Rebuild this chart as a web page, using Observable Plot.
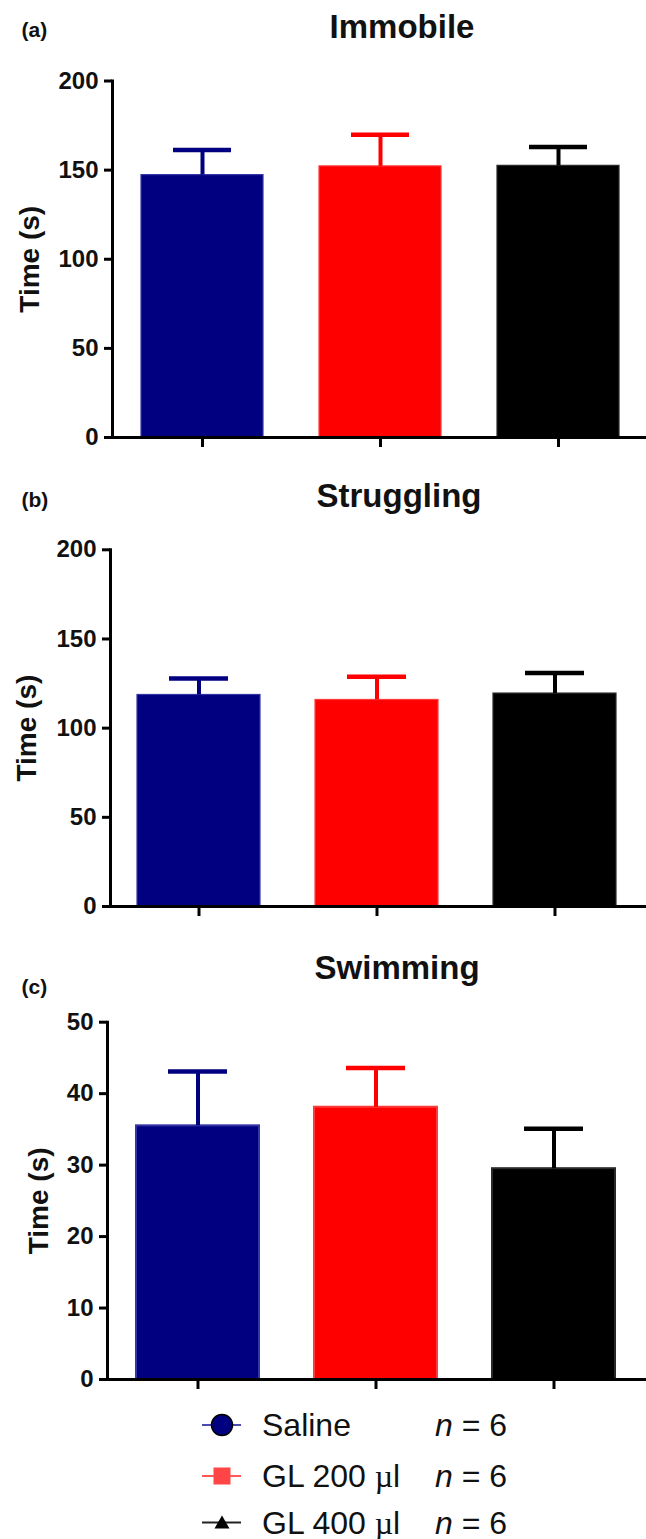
<!DOCTYPE html>
<html>
<head>
<meta charset="utf-8">
<script src="https://cdn.jsdelivr.net/npm/d3@7"></script>
<script src="https://cdn.jsdelivr.net/npm/@observablehq/plot@0.6"></script>
<style>
  body { margin: 0; background: #fff; font-family: "Liberation Sans", Arial, sans-serif; }
  #chart { width: 646px; }
  #chart svg { display: block; }
</style>
</head>
<body>
<div id="chart"></div>
<script>
// ---- data ----
const groups = ["Saline", "GL 200 µl", "GL 400 µl"];
const colors = ["#000080", "#ff0000", "#000000"];
const edgeColors = ["#3535a5", "#ff3b3b", "#2a2a2a"];
const panelLabels = ["(a)", "(b)", "(c)"];
const titles = ["Immobile", "Struggling", "Swimming"];
const yLabel = "Time (s)";

const immobileMean = [147.2, 152.1, 152.4];
const immobileSEM = [14.1, 17.8, 10.6];
const strugglingMean = [118.6, 115.8, 119.4];
const strugglingSEM = [9.3, 13.0, 11.5];
const swimmingMean = [35.5, 38.1, 29.5];
const swimmingSEM = [7.6, 5.5, 5.6];

const yTicksAB = [0, 50, 100, 150, 200];
const yTicksC = [0, 10, 20, 30, 40, 50];

const legendSymbols = ["circle", "square", "triangle"];
const legendN = [6, 6, 6];
const legendLineColors = ["#4a4ab2", "#ff5a5a", "#222222"];
const legendFill = ["#000080", "#ff4545", "#000000"];

const FONT = '"Liberation Sans", Arial, sans-serif';

// ---- layout ----
const layouts = [
  {height: 460, top: 80.5, bottom: 23, left: 112, range: [141, 619.5], pi: 0.312, titleX: 401.5, titleBase: 37, labelBase: 36.5, ylabX: 29.5},
  {height: 460, top: 89.3, bottom: 14, left: 110, range: [137, 617.5], pi: 0.308, titleX: 398.5, titleBase: 46.7, labelBase: 46.5, ylabX: 27},
  {height: 472, top: 101.7, bottom: 13, left: 107, range: [136, 616], pi: 0.311, titleX: 396.6, titleBase: 58, labelBase: 73, ylabX: 39}
];

function panel(i, means, sems, ticks, L) {
  const data = groups.map((g, j) => ({
    group: g, mean: means[j], sem: sems[j], top: means[j] + sems[j],
    color: colors[j], edge: edgeColors[j]
  }));
  const yMax = ticks[ticks.length - 1];
  return Plot.plot({
    width: 646,
    height: L.height,
    marginTop: L.top,
    marginBottom: L.bottom,
    marginLeft: L.left,
    marginRight: 0,
    style: {fontFamily: FONT, background: "white", overflow: "visible", color: "#000"},
    x: {type: "band", domain: groups, range: L.range, paddingInner: L.pi, paddingOuter: 0, align: 0},
    y: {domain: [0, yMax]},
    color: {type: "identity"},
    marks: [
      Plot.barY(data, {x: "group", y: "mean", fill: "color", stroke: "edge", strokeWidth: i === 2 ? 2 : 1.2}),
      Plot.ruleX(data, {x: "group", y1: "mean", y2: "top", stroke: "color", strokeWidth: 4}),
      Plot.tickY(data, {x: "group", y: "top", stroke: "color", strokeWidth: 4.5, insetLeft: 32, insetRight: 32}),
      Plot.ruleY([0], {stroke: "#000", strokeWidth: 3, insetLeft: -1.5}),
      Plot.frame({anchor: "left", stroke: "#000", strokeWidth: 3}),
      Plot.axisY(ticks, {tickSize: 8, tickPadding: 6, fontSize: 24, fontWeight: "bold", strokeWidth: 3, label: null, fill: "#111"}),
      Plot.axisX({tickSize: 10, tickFormat: () => "", strokeWidth: 3, label: null}),
      Plot.text([titles[i]], {text: d => d, frameAnchor: "top-left", dx: L.titleX - L.left, dy: L.titleBase - L.top,
        lineAnchor: "bottom", textAnchor: "middle", fontSize: 33, fontWeight: "bold", fill: "#111"}),
      Plot.text([panelLabels[i]], {text: d => d, frameAnchor: "top-left", dx: 21 - L.left, dy: L.labelBase - L.top,
        lineAnchor: "bottom", textAnchor: "start", fontSize: 21, fontWeight: "bold", fill: "#111"}),
      Plot.text([yLabel], {text: d => d, frameAnchor: "left", dx: L.ylabX - L.left, rotate: -90,
        textAnchor: "middle", fontSize: 28, fontWeight: "bold", fill: "#111"})
    ]
  });
}

const chart = document.getElementById("chart");
chart.append(panel(0, immobileMean, immobileSEM, yTicksAB, layouts[0]));
chart.append(panel(1, strugglingMean, strugglingSEM, yTicksAB, layouts[1]));
chart.append(panel(2, swimmingMean, swimmingSEM, yTicksC, layouts[2]));

// ---- legend (below the charts) ----
const legendDiv = document.createElement("div");
chart.append(legendDiv);
const lsvg = d3.select(legendDiv).append("svg")
  .attr("width", 646).attr("height", 147)
  .style("display", "block")
  .style("font-family", FONT);
const rowCenters = [33, 84, 130.5];
groups.forEach((g, j) => {
  const cy = rowCenters[j];
  const row = lsvg.append("g");
  row.append("line").attr("x1", 202).attr("x2", 241).attr("y1", cy).attr("y2", cy)
    .attr("stroke", legendLineColors[j]).attr("stroke-width", 2);
  const cx = 222;
  if (legendSymbols[j] === "circle") {
    row.append("circle").attr("cx", cx).attr("cy", cy).attr("r", 10.5)
      .attr("fill", legendFill[j]).attr("stroke", "#000").attr("stroke-width", 1.5);
  } else if (legendSymbols[j] === "square") {
    row.append("rect").attr("x", cx - 8.5).attr("y", cy - 8.5).attr("width", 17).attr("height", 17)
      .attr("fill", legendFill[j]);
  } else {
    row.append("path").attr("d", `M${cx - 7.5},${cy + 6} L${cx + 7.5},${cy + 6} L${cx},${cy - 7} Z`)
      .attr("fill", legendFill[j]);
  }
  const t = row.append("text").attr("x", 262).attr("y", cy + 11).attr("font-size", 32).attr("fill", "#111");
  if (g.includes("µ")) {
    const [pre] = g.split("µ");
    t.append("tspan").text(pre);
    t.append("tspan").text("µ").attr("font-family", '"Liberation Serif", "DejaVu Serif", serif');
    t.append("tspan").text(g.slice(g.indexOf("µ") + 1));
  } else {
    t.text(g);
  }
  const n = row.append("text").attr("x", 435).attr("y", cy + 11).attr("font-size", 32).attr("fill", "#111");
  n.append("tspan").text("n").attr("font-style", "italic");
  n.append("tspan").text(" = " + legendN[j]);
});
</script>
</body>
</html>
